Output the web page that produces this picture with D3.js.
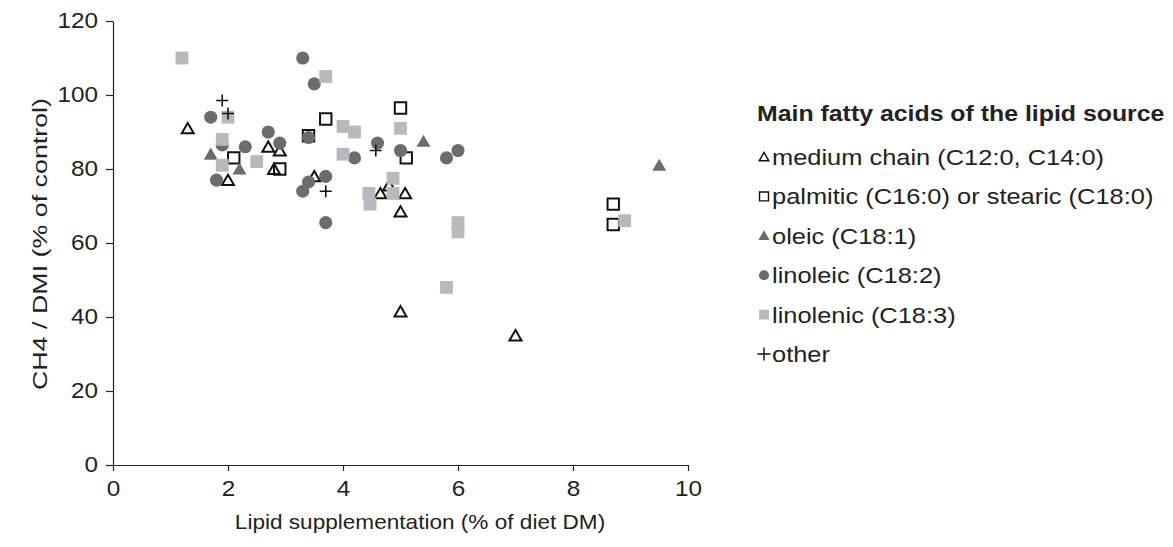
<!DOCTYPE html>
<html>
<head>
<meta charset="utf-8">
<script src="https://cdn.jsdelivr.net/npm/d3@7"></script>
<style>
  body { margin: 0; background: #fff; }
  text { font-family: "Liberation Sans", Arial, sans-serif; fill: #222; }
</style>
</head>
<body>
<svg id="chart" width="1173" height="547"></svg>
<script>
// values, [lipid %, CH4/DMI %]
const mediumChain = [[1.3, 91], [2.0, 77], [2.7, 86], [2.9, 85], [2.8, 80], [3.5, 78],
  [4.65, 73.4], [4.8, 75.5], [5.08, 73.4], [5.0, 68.5], [5.0, 41.5], [7.0, 35]]
const palmitic = [[2.1, 83], [2.9, 80], [3.4, 89], [3.7, 93.5], [5.0, 96.5], [5.1, 83],
  [8.7, 70.5], [8.7, 65]]
const oleic = [[1.7, 84], [2.2, 80], [5.4, 87.5], [9.5, 81]]
const linoleic = [[3.3, 110], [3.5, 103], [1.7, 94], [2.7, 90], [3.4, 88.5], [1.9, 86.5],
  [2.3, 86], [2.9, 87], [1.8, 77], [3.4, 76.5], [3.3, 74], [3.7, 78], [4.6, 87], [5.0, 85],
  [6.0, 85], [5.8, 83], [4.2, 83], [3.7, 65.5]]
const linolenic = [[1.2, 110], [2.0, 94], [1.9, 88], [2.5, 82], [1.9, 81], [3.7, 105],
  [4.0, 91.5], [4.2, 90], [5.0, 91], [4.0, 84], [4.87, 77.5], [4.45, 73.4], [4.47, 70.5],
  [4.87, 73.4], [6.0, 65.5], [6.0, 63], [5.8, 48], [8.9, 66]]
const other = [[1.9, 98.5], [2.0, 95], [4.57, 85], [3.7, 74]]

const xTicks = [0, 2, 4, 6, 8, 10]
const yTicks = [0, 20, 40, 60, 80, 100, 120]

const legendTitle = 'Main fatty acids of the lipid source'
const legendLabels = ['medium chain (C12:0, C14:0)', 'palmitic (C16:0) or stearic (C18:0)',
  'oleic (C18:1)', 'linoleic (C18:2)', 'linolenic (C18:3)', 'other']

const dark = '#6b6c70'
const light = '#b6b9bd'
const sx = 1.13   // the reference text is a bit stretched sideways

const series = [
  { data: mediumChain, type: d3.symbolTriangle, size: 62, fill: 'none', stroke: '#111', lsize: 40 },
  { data: palmitic, type: d3.symbolSquare, size: 130, fill: 'none', stroke: '#111', lsize: 80 },
  { data: oleic, type: d3.symbolTriangle, size: 85, fill: dark, stroke: 'none', lsize: 55 },
  { data: linoleic, type: d3.symbolCircle, size: 135, fill: dark, stroke: 'none', lsize: 80 },
  { data: linolenic, type: d3.symbolSquare, size: 165, fill: light, stroke: 'none', lsize: 95 },
  { data: other, type: d3.symbolCross, size: 0, fill: 'none', stroke: '#111', lsize: 0 }
]

const margin = { left: 113, top: 21 }
const width = 575, height = 444

const svg = d3.select('#chart')
const chart = svg.append('g')
  .attr('transform', `translate(${margin.left}, ${margin.top})`)

const xScale = d3.scaleLinear().domain([0, 10]).range([0, width])
const yScale = d3.scaleLinear().domain([0, 120]).range([height, 0])

const xAxis = chart.append('g')
  .attr('transform', `translate(0, ${height})`)
  .call(d3.axisBottom(xScale).tickValues(xTicks).tickSize(6).tickSizeOuter(0).tickPadding(10))
const yAxis = chart.append('g')
  .call(d3.axisLeft(yScale).tickValues(yTicks).tickSize(7).tickSizeOuter(0).tickPadding(9))

for (const ax of [xAxis, yAxis]) {
  ax.selectAll('path, line').attr('stroke', '#222').attr('stroke-width', 1.2)
  ax.selectAll('text')
    .style('font-size', '21.5px')
    .style('font-family', '"Liberation Sans", Arial, sans-serif')
    .attr('fill', '#222')
    .attr('transform', `scale(${sx},1)`)
}
yAxis.selectAll('text').attr('x', -15 / sx)

// plus signs drawn as two lines
function plusPath(cx, cy, r) {
  return `M${cx - r},${cy}H${cx + r}M${cx},${cy - r}V${cy + r}`
}

series.forEach(s => {
  const g = chart.append('g')
  if (s.type === d3.symbolCross) {
    g.selectAll('path').data(s.data).enter().append('path')
      .attr('d', d => plusPath(xScale(d[0]), yScale(d[1]), 6))
      .attr('stroke', s.stroke).attr('stroke-width', 1.6).attr('fill', 'none')
  } else {
    g.selectAll('path').data(s.data).enter().append('path')
      .attr('transform', d => `translate(${xScale(d[0])}, ${yScale(d[1]) + (s.type === d3.symbolTriangle ? 1.5 : 0)})`)
      .attr('d', d3.symbol().type(s.type).size(s.size))
      .attr('fill', s.fill)
      .attr('stroke', s.stroke)
      .attr('stroke-width', 2)
  }
})

svg.append('text')
  .attr('transform', `translate(420, 529) scale(${sx},1)`)
  .attr('text-anchor', 'middle')
  .style('font-size', '20px')
  .text('Lipid supplementation (% of diet DM)')

svg.append('text')
  .attr('transform', 'translate(47, 244) rotate(-90)')
  .attr('text-anchor', 'middle')
  .attr('textLength', 292)
  .attr('lengthAdjust', 'spacingAndGlyphs')
  .style('font-size', '21px')
  .text('CH4 / DMI (% of control)')

// legend
const legend = svg.append('g').attr('transform', 'translate(757, 0)')
legend.append('text')
  .attr('transform', `translate(0, 121) scale(${sx},1)`)
  .style('font-size', '22px').style('font-weight', 'bold')
  .text(legendTitle)

legendLabels.forEach((label, i) => {
  const s = series[i]
  const cy = 157 + i * 39.4
  if (s.type === d3.symbolCross) {
    legend.append('path').attr('d', plusPath(7, cy, 6.5))
      .attr('stroke', '#111').attr('stroke-width', 1.4)
  } else {
    legend.append('path')
      .attr('transform', `translate(7, ${cy + (s.type === d3.symbolTriangle ? 1 : 0)})`)
      .attr('d', d3.symbol().type(s.type).size(s.lsize))
      .attr('fill', s.fill).attr('stroke', s.stroke).attr('stroke-width', 1.4)
  }
  legend.append('text')
    .attr('transform', `translate(15, ${cy + 8}) scale(${sx},1)`)
    .style('font-size', '22.5px')
    .text(label)
})
</script>
</body>
</html>
